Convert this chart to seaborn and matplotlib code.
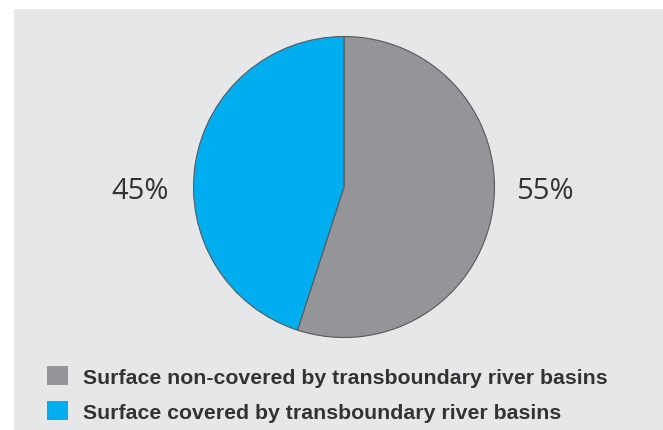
import matplotlib
matplotlib.use("Agg")
import matplotlib.pyplot as plt
from matplotlib.patches import Rectangle
import seaborn as sns

# Share of surface area by transboundary river basin coverage
categories = ["Surface non-covered by transboundary river basins",
              "Surface covered by transboundary river basins"]
shares = [55, 45]
pct_labels = ["55%", "45%"]
colors = ["#939598", "#00aeef"]

sns.set_theme(style="white")
plt.rcParams["font.family"] = ["Open Sans", "DejaVu Sans"]

W, H = 663, 431
fig = plt.figure(figsize=(W / 100, H / 100), dpi=100)
fig.patch.set_facecolor("white")

# grey panel behind the chart
fig.patches.append(Rectangle((14 / W, -0.1), 2, (H - 10) / H + 0.1,
                             transform=fig.transFigure, facecolor="#e6e7e8",
                             edgecolor="none", zorder=-5))

cx, cy, r = 344, 188, 152
ax = fig.add_axes([(cx - r) / W, (H - cy - r) / H, 2 * r / W, 2 * r / H])
ax.set_facecolor("none")
wedges, _ = ax.pie(shares, colors=colors, startangle=90, counterclock=False,
                   radius=1, wedgeprops=dict(edgecolor="#58595b", linewidth=0.8))
ax.set_xlim(-1.01, 1.01)
ax.set_ylim(-1.01, 1.01)
ax.set_aspect("equal")
ax.axis("off")

# percentage labels beside the pie
fig.text(545 / W, 1 - 192 / H, pct_labels[0], ha="center", va="center",
         fontsize=21, color="#333333")
fig.text(140 / W, 1 - 192 / H, pct_labels[1], ha="center", va="center",
         fontsize=21, color="#333333")

leg = fig.legend(wedges, categories, loc="upper left",
                 bbox_to_anchor=(28 / W, 1 - 348 / H), frameon=False,
                 handlelength=1.0, handleheight=1.0, handletextpad=0.7,
                 labelspacing=0.65,
                 prop=dict(family=["Liberation Sans", "DejaVu Sans"],
                           weight="bold", size=15.3))
for h in leg.legend_handles:
    h.set_edgecolor("none")
for t in leg.get_texts():
    t.set_color("#333333")

fig.savefig("out.png", dpi=100, facecolor="white")
